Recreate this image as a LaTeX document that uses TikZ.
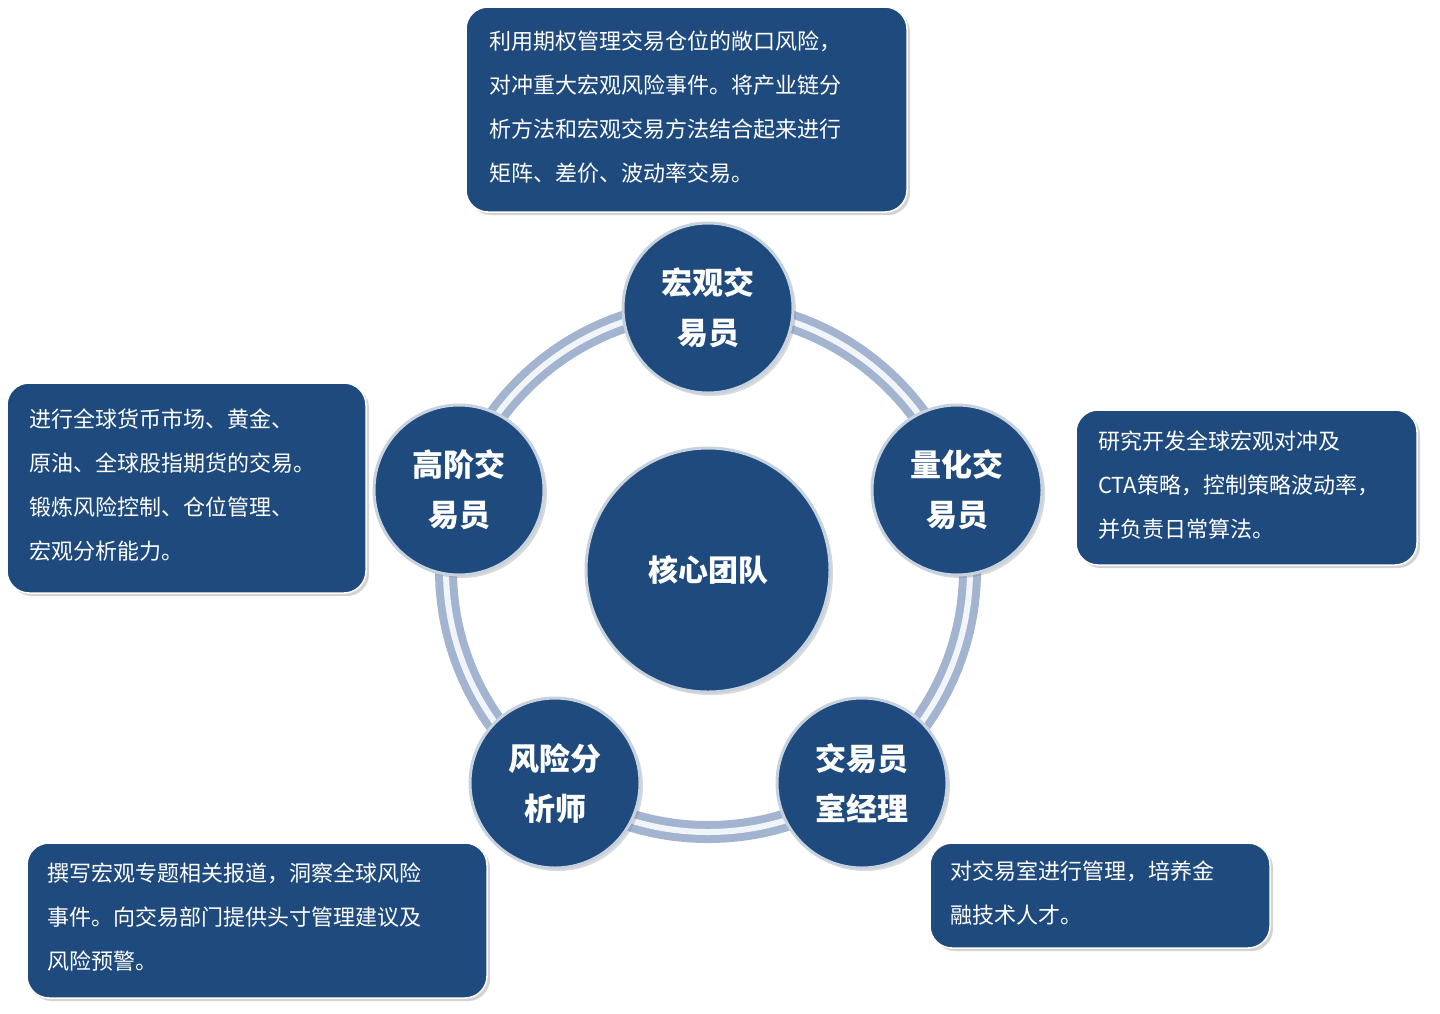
\documentclass[tikz,border=0pt]{standalone}
\usepackage{fontspec}
\setmainfont{Noto Sans CJK SC}
\usetikzlibrary{shadows}
\definecolor{navy}{HTML}{1F4A7D}
\definecolor{ringc}{HTML}{A3B4D0}
\tikzset{
 x=1pt,y=-1pt,
 infobox/.style={fill=navy,draw=white,line width=1.5pt,rounded corners=22pt,drop shadow={shadow xshift=3pt,shadow yshift=-3pt,opacity=0.35}},
 infotext/.style={text=white,anchor=north west,align=left,font=\fontsize{22}{44}\selectfont,inner sep=0pt},
 role/.style={circle,fill=navy,draw=white!75!navy,line width=3pt,minimum size=170pt,text=white,font=\fontsize{31}{50}\selectfont\bfseries,align=center,drop shadow={shadow xshift=3pt,shadow yshift=-3pt,opacity=0.3}},
}
\begin{document}
\begin{tikzpicture}
\useasboundingbox (0,0) rectangle (1440,1013);
\draw[ringc,line width=22pt] (708,570) circle (262);
\draw[white!85!ringc,line width=6pt] (708,570) circle (262);
\node[role,minimum size=244pt,font=\fontsize{30}{40}\selectfont\bfseries] (core) at (708,570) {核心团队};
\node[role] (macro) at (708,308) {宏观交\\易员};
\node[role] (quant) at (957,490) {量化交\\易员};
\node[role] (mgr) at (862,783) {交易员\\室经理};
\node[role] (risk) at (555,783) {风险分\\析师};
\node[role] (senior) at (459,490) {高阶交\\易员};
\draw[infobox] (466,7) rectangle (907,212);
\node[infotext] (t1) at (489,31) {利用期权管理交易仓位的敞口风险，\\对冲重大宏观风险事件。将产业链分\\析方法和宏观交易方法结合起来进行\\矩阵、差价、波动率交易。};
\draw[infobox] (1076,410) rectangle (1417,565);
\node[infotext] (t2) at (1098,431) {研究开发全球宏观对冲及\\CTA策略，控制策略波动率，\\并负责日常算法。};
\draw[infobox] (7,383) rectangle (366,593);
\node[infotext] (t3) at (29,409) {进行全球货币市场、黄金、\\原油、全球股指期货的交易。\\锻炼风险控制、仓位管理、\\宏观分析能力。};
\draw[infobox] (27,843) rectangle (487,998);
\node[infotext] (t4) at (47,863) {撰写宏观专题相关报道，洞察全球风险\\事件。向交易部门提供头寸管理建议及\\风险预警。};
\draw[infobox] (930,843) rectangle (1270,948);
\node[infotext] (t5) at (950,861) {对交易室进行管理，培养金\\融技术人才。};
\end{tikzpicture}
\end{document}
